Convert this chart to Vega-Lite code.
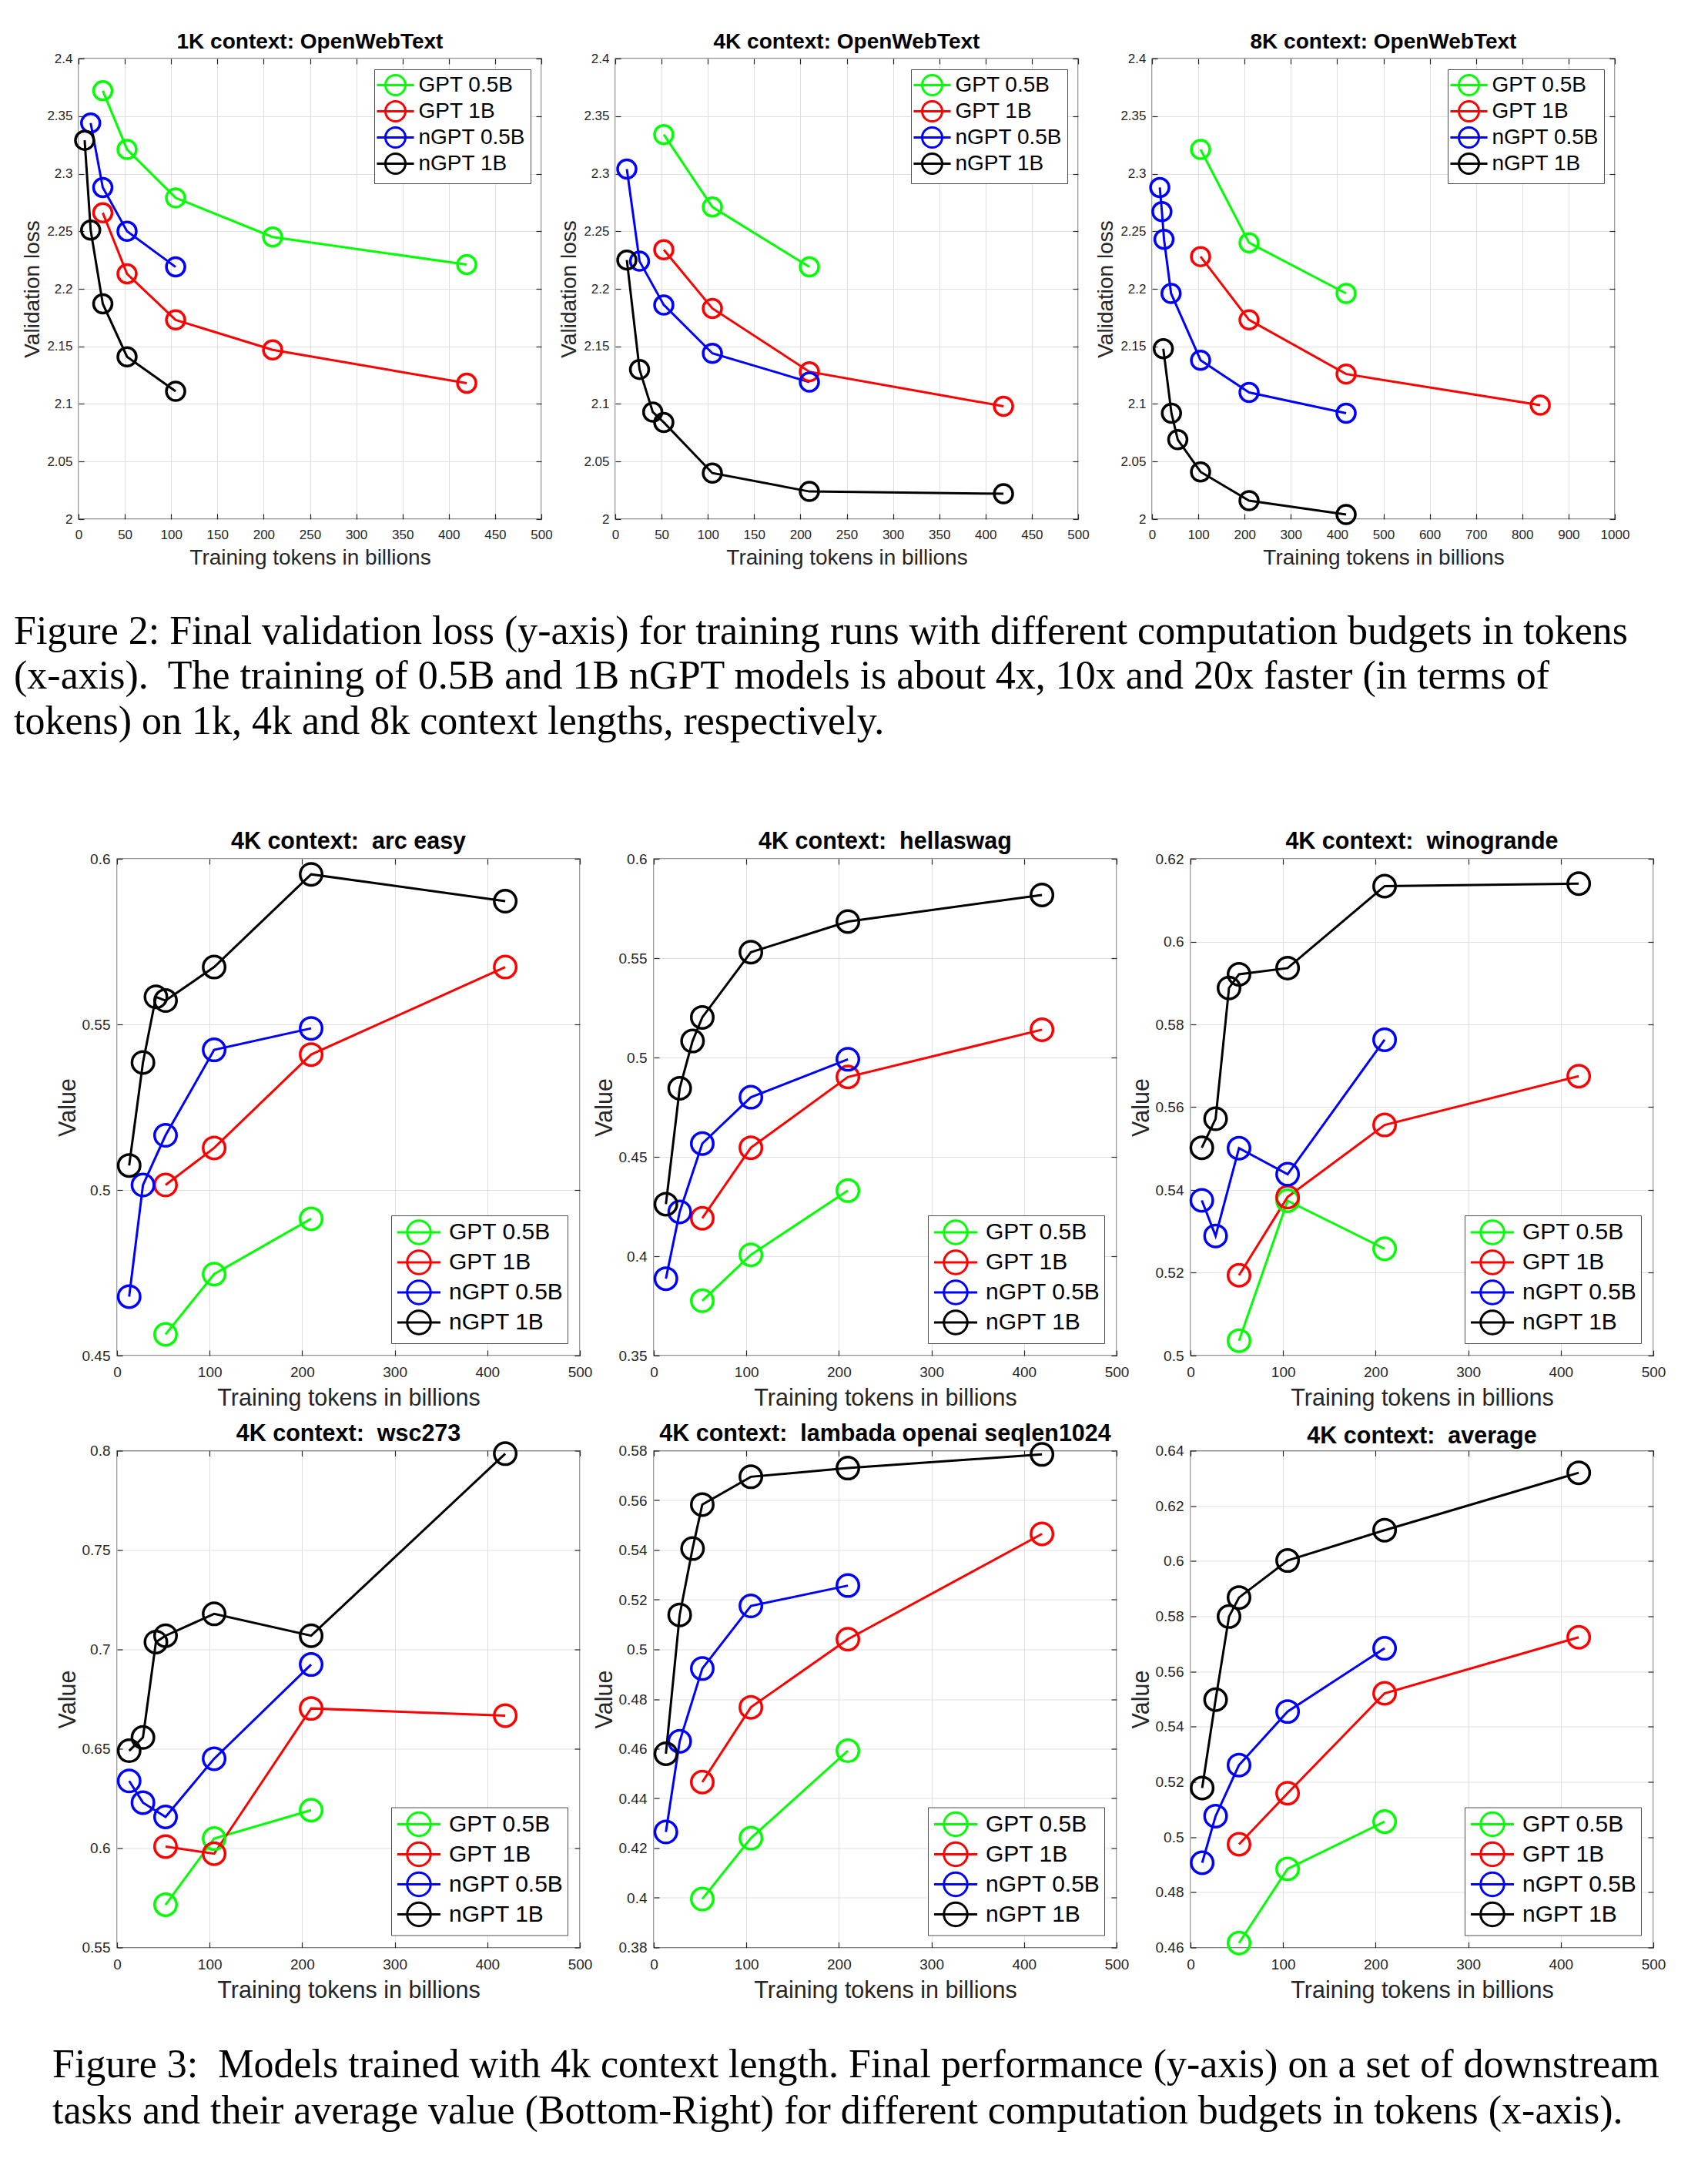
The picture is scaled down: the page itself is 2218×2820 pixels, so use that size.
{
"$schema": "https://vega.github.io/schema/vega-lite/v6.json",
"background": "white",
"padding": {"left": 0, "top": 40, "right": 0, "bottom": 0},
"spacing": 13.5,
"resolve": {"scale": {"color": "independent"}},
"config": {
  "view": {"stroke": "#262626", "strokeWidth": 1.3},
  "font": "Liberation Sans",
  "title": {"font": "Liberation Sans", "fontWeight": "bold", "color": "black", "anchor": "middle"},
  "axis": {"domain": false, "tickSize": -7, "tickColor": "#262626", "tickWidth": 1.2, "labelColor": "#262626", "titleColor": "#262626", "titleFontWeight": "normal", "labelFont": "Liberation Sans", "titleFont": "Liberation Sans", "gridColor": "#dfdfdf", "gridWidth": 1, "labelFlush": false, "labelOverlap": false, "labelBound": false},
  "legend": {"symbolStrokeWidth": 3, "symbolFillColor": "transparent", "labelFont": "Liberation Sans", "labelColor": "black", "labelLimit": 400, "strokeColor": "#4d4d4d", "fillColor": "white"}
},
"datasets": {"d": [
{"p":"p1","s":"GPT 0.5B","x":26.2,"y":2.372},{"p":"p1","s":"GPT 0.5B","x":52.4,"y":2.321},{"p":"p1","s":"GPT 0.5B","x":104.9,"y":2.279},{"p":"p1","s":"GPT 0.5B","x":209.7,"y":2.245},{"p":"p1","s":"GPT 0.5B","x":419.4,"y":2.221},
{"p":"p1","s":"GPT 1B","x":26.2,"y":2.266},{"p":"p1","s":"GPT 1B","x":52.4,"y":2.213},{"p":"p1","s":"GPT 1B","x":104.9,"y":2.173},{"p":"p1","s":"GPT 1B","x":209.7,"y":2.147},{"p":"p1","s":"GPT 1B","x":419.4,"y":2.118},
{"p":"p1","s":"nGPT 0.5B","x":13.1,"y":2.344},{"p":"p1","s":"nGPT 0.5B","x":26.2,"y":2.288},{"p":"p1","s":"nGPT 0.5B","x":52.4,"y":2.250},{"p":"p1","s":"nGPT 0.5B","x":104.9,"y":2.219},
{"p":"p1","s":"nGPT 1B","x":6.6,"y":2.329},{"p":"p1","s":"nGPT 1B","x":13.1,"y":2.251},{"p":"p1","s":"nGPT 1B","x":26.2,"y":2.187},{"p":"p1","s":"nGPT 1B","x":52.4,"y":2.141},{"p":"p1","s":"nGPT 1B","x":104.9,"y":2.111},
{"p":"p2","s":"GPT 0.5B","x":52.4,"y":2.334},{"p":"p2","s":"GPT 0.5B","x":104.9,"y":2.271},{"p":"p2","s":"GPT 0.5B","x":209.7,"y":2.219},
{"p":"p2","s":"GPT 1B","x":52.4,"y":2.234},{"p":"p2","s":"GPT 1B","x":104.9,"y":2.183},{"p":"p2","s":"GPT 1B","x":209.7,"y":2.128},{"p":"p2","s":"GPT 1B","x":419.4,"y":2.098},
{"p":"p2","s":"nGPT 0.5B","x":12.5,"y":2.304},{"p":"p2","s":"nGPT 0.5B","x":26.2,"y":2.224},{"p":"p2","s":"nGPT 0.5B","x":52.4,"y":2.186},{"p":"p2","s":"nGPT 0.5B","x":104.9,"y":2.144},{"p":"p2","s":"nGPT 0.5B","x":209.7,"y":2.119},
{"p":"p2","s":"nGPT 1B","x":12.5,"y":2.225},{"p":"p2","s":"nGPT 1B","x":26.2,"y":2.130},{"p":"p2","s":"nGPT 1B","x":40.5,"y":2.093},{"p":"p2","s":"nGPT 1B","x":52.4,"y":2.084},{"p":"p2","s":"nGPT 1B","x":104.9,"y":2.040},{"p":"p2","s":"nGPT 1B","x":209.7,"y":2.024},{"p":"p2","s":"nGPT 1B","x":419.4,"y":2.022},
{"p":"p3","s":"GPT 0.5B","x":104.9,"y":2.321},{"p":"p3","s":"GPT 0.5B","x":209.7,"y":2.240},{"p":"p3","s":"GPT 0.5B","x":419.4,"y":2.196},
{"p":"p3","s":"GPT 1B","x":104.9,"y":2.228},{"p":"p3","s":"GPT 1B","x":209.7,"y":2.173},{"p":"p3","s":"GPT 1B","x":419.4,"y":2.126},{"p":"p3","s":"GPT 1B","x":838.9,"y":2.099},
{"p":"p3","s":"nGPT 0.5B","x":16.8,"y":2.288},{"p":"p3","s":"nGPT 0.5B","x":21.4,"y":2.267},{"p":"p3","s":"nGPT 0.5B","x":25.9,"y":2.243},{"p":"p3","s":"nGPT 0.5B","x":41.2,"y":2.196},{"p":"p3","s":"nGPT 0.5B","x":104.9,"y":2.138},{"p":"p3","s":"nGPT 0.5B","x":209.7,"y":2.110},{"p":"p3","s":"nGPT 0.5B","x":419.4,"y":2.092},
{"p":"p3","s":"nGPT 1B","x":24.4,"y":2.148},{"p":"p3","s":"nGPT 1B","x":42.0,"y":2.092},{"p":"p3","s":"nGPT 1B","x":55.7,"y":2.069},{"p":"p3","s":"nGPT 1B","x":104.9,"y":2.041},{"p":"p3","s":"nGPT 1B","x":209.7,"y":2.016},{"p":"p3","s":"nGPT 1B","x":419.4,"y":2.004},
{"p":"p4","s":"GPT 0.5B","x":52.4,"y":0.4564},{"p":"p4","s":"GPT 0.5B","x":104.9,"y":0.4746},{"p":"p4","s":"GPT 0.5B","x":209.7,"y":0.4913},
{"p":"p4","s":"GPT 1B","x":52.4,"y":0.5015},{"p":"p4","s":"GPT 1B","x":104.9,"y":0.5127},{"p":"p4","s":"GPT 1B","x":209.7,"y":0.5409},{"p":"p4","s":"GPT 1B","x":419.4,"y":0.5673},
{"p":"p4","s":"nGPT 0.5B","x":13.1,"y":0.4678},{"p":"p4","s":"nGPT 0.5B","x":28.0,"y":0.5015},{"p":"p4","s":"nGPT 0.5B","x":52.4,"y":0.5165},{"p":"p4","s":"nGPT 0.5B","x":104.9,"y":0.5423},{"p":"p4","s":"nGPT 0.5B","x":209.7,"y":0.5488},
{"p":"p4","s":"nGPT 1B","x":13.1,"y":0.5074},{"p":"p4","s":"nGPT 1B","x":28.0,"y":0.5385},{"p":"p4","s":"nGPT 1B","x":42.0,"y":0.5583},{"p":"p4","s":"nGPT 1B","x":52.4,"y":0.5572},{"p":"p4","s":"nGPT 1B","x":104.9,"y":0.5673},{"p":"p4","s":"nGPT 1B","x":209.7,"y":0.5953},{"p":"p4","s":"nGPT 1B","x":419.4,"y":0.5872},
{"p":"p5","s":"GPT 0.5B","x":52.4,"y":0.3776},{"p":"p5","s":"GPT 0.5B","x":104.9,"y":0.4007},{"p":"p5","s":"GPT 0.5B","x":209.7,"y":0.4330},
{"p":"p5","s":"GPT 1B","x":52.4,"y":0.4191},{"p":"p5","s":"GPT 1B","x":104.9,"y":0.4546},{"p":"p5","s":"GPT 1B","x":209.7,"y":0.4902},{"p":"p5","s":"GPT 1B","x":419.4,"y":0.5140},
{"p":"p5","s":"nGPT 0.5B","x":13.1,"y":0.3887},{"p":"p5","s":"nGPT 0.5B","x":28.0,"y":0.4223},{"p":"p5","s":"nGPT 0.5B","x":52.4,"y":0.4567},{"p":"p5","s":"nGPT 0.5B","x":104.9,"y":0.4800},{"p":"p5","s":"nGPT 0.5B","x":209.7,"y":0.4991},
{"p":"p5","s":"nGPT 1B","x":13.1,"y":0.4262},{"p":"p5","s":"nGPT 1B","x":28.0,"y":0.4845},{"p":"p5","s":"nGPT 1B","x":41.9,"y":0.5083},{"p":"p5","s":"nGPT 1B","x":52.4,"y":0.5202},{"p":"p5","s":"nGPT 1B","x":104.9,"y":0.5530},{"p":"p5","s":"nGPT 1B","x":209.7,"y":0.5684},{"p":"p5","s":"nGPT 1B","x":419.4,"y":0.5818},
{"p":"p6","s":"GPT 0.5B","x":52.4,"y":0.5036},{"p":"p6","s":"GPT 0.5B","x":104.9,"y":0.5374},{"p":"p6","s":"GPT 0.5B","x":209.7,"y":0.5258},
{"p":"p6","s":"GPT 1B","x":52.4,"y":0.5194},{"p":"p6","s":"GPT 1B","x":104.9,"y":0.5383},{"p":"p6","s":"GPT 1B","x":209.7,"y":0.5557},{"p":"p6","s":"GPT 1B","x":419.4,"y":0.5675},
{"p":"p6","s":"nGPT 0.5B","x":12.2,"y":0.5375},{"p":"p6","s":"nGPT 0.5B","x":27.1,"y":0.5289},{"p":"p6","s":"nGPT 0.5B","x":52.4,"y":0.5501},{"p":"p6","s":"nGPT 0.5B","x":104.9,"y":0.5438},{"p":"p6","s":"nGPT 0.5B","x":209.7,"y":0.5763},
{"p":"p6","s":"nGPT 1B","x":12.2,"y":0.5502},{"p":"p6","s":"nGPT 1B","x":27.1,"y":0.5572},{"p":"p6","s":"nGPT 1B","x":41.6,"y":0.5888},{"p":"p6","s":"nGPT 1B","x":52.4,"y":0.5921},{"p":"p6","s":"nGPT 1B","x":104.9,"y":0.5936},{"p":"p6","s":"nGPT 1B","x":209.7,"y":0.6134},{"p":"p6","s":"nGPT 1B","x":419.4,"y":0.6140},
{"p":"p7","s":"GPT 0.5B","x":52.4,"y":0.5715},{"p":"p7","s":"GPT 0.5B","x":104.9,"y":0.6048},{"p":"p7","s":"GPT 0.5B","x":209.7,"y":0.6191},
{"p":"p7","s":"GPT 1B","x":52.4,"y":0.6008},{"p":"p7","s":"GPT 1B","x":104.9,"y":0.5972},{"p":"p7","s":"GPT 1B","x":209.7,"y":0.6703},{"p":"p7","s":"GPT 1B","x":419.4,"y":0.6667},
{"p":"p7","s":"nGPT 0.5B","x":13.1,"y":0.6338},{"p":"p7","s":"nGPT 0.5B","x":28.0,"y":0.6229},{"p":"p7","s":"nGPT 0.5B","x":52.4,"y":0.6157},{"p":"p7","s":"nGPT 0.5B","x":104.9,"y":0.6450},{"p":"p7","s":"nGPT 0.5B","x":209.7,"y":0.6924},
{"p":"p7","s":"nGPT 1B","x":13.1,"y":0.6490},{"p":"p7","s":"nGPT 1B","x":28.0,"y":0.6557},{"p":"p7","s":"nGPT 1B","x":42.0,"y":0.7037},{"p":"p7","s":"nGPT 1B","x":52.4,"y":0.7069},{"p":"p7","s":"nGPT 1B","x":104.9,"y":0.7179},{"p":"p7","s":"nGPT 1B","x":209.7,"y":0.7069},{"p":"p7","s":"nGPT 1B","x":419.4,"y":0.7985},
{"p":"p8","s":"GPT 0.5B","x":52.4,"y":0.3995},{"p":"p8","s":"GPT 0.5B","x":104.9,"y":0.4240},{"p":"p8","s":"GPT 0.5B","x":209.7,"y":0.4592},
{"p":"p8","s":"GPT 1B","x":52.4,"y":0.4466},{"p":"p8","s":"GPT 1B","x":104.9,"y":0.4767},{"p":"p8","s":"GPT 1B","x":209.7,"y":0.5041},{"p":"p8","s":"GPT 1B","x":419.4,"y":0.5465},
{"p":"p8","s":"nGPT 0.5B","x":13.1,"y":0.4265},{"p":"p8","s":"nGPT 0.5B","x":28.0,"y":0.4630},{"p":"p8","s":"nGPT 0.5B","x":52.4,"y":0.4923},{"p":"p8","s":"nGPT 0.5B","x":104.9,"y":0.5175},{"p":"p8","s":"nGPT 0.5B","x":209.7,"y":0.5257},
{"p":"p8","s":"nGPT 1B","x":13.1,"y":0.4580},{"p":"p8","s":"nGPT 1B","x":28.0,"y":0.5139},{"p":"p8","s":"nGPT 1B","x":41.9,"y":0.5406},{"p":"p8","s":"nGPT 1B","x":52.4,"y":0.5583},{"p":"p8","s":"nGPT 1B","x":104.9,"y":0.5695},{"p":"p8","s":"nGPT 1B","x":209.7,"y":0.5730},{"p":"p8","s":"nGPT 1B","x":419.4,"y":0.5785},
{"p":"p9","s":"GPT 0.5B","x":52.4,"y":0.4616},{"p":"p9","s":"GPT 0.5B","x":104.9,"y":0.4885},{"p":"p9","s":"GPT 0.5B","x":209.7,"y":0.5056},
{"p":"p9","s":"GPT 1B","x":52.4,"y":0.4974},{"p":"p9","s":"GPT 1B","x":104.9,"y":0.5159},{"p":"p9","s":"GPT 1B","x":209.7,"y":0.5521},{"p":"p9","s":"GPT 1B","x":419.4,"y":0.5724},
{"p":"p9","s":"nGPT 0.5B","x":12.6,"y":0.4907},{"p":"p9","s":"nGPT 0.5B","x":27.1,"y":0.5076},{"p":"p9","s":"nGPT 0.5B","x":52.4,"y":0.5261},{"p":"p9","s":"nGPT 0.5B","x":104.9,"y":0.5455},{"p":"p9","s":"nGPT 0.5B","x":209.7,"y":0.5684},
{"p":"p9","s":"nGPT 1B","x":12.6,"y":0.5178},{"p":"p9","s":"nGPT 1B","x":27.1,"y":0.5498},{"p":"p9","s":"nGPT 1B","x":41.6,"y":0.5799},{"p":"p9","s":"nGPT 1B","x":52.4,"y":0.5868},{"p":"p9","s":"nGPT 1B","x":104.9,"y":0.6002},{"p":"p9","s":"nGPT 1B","x":209.7,"y":0.6112},{"p":"p9","s":"nGPT 1B","x":419.4,"y":0.6320}
]},
"vconcat": [
{
 "hconcat": [
  {"width": 6, "height": 598, "view": {"stroke": null}, "data": {"values": [{"a": 1}]}, "mark": {"type": "point", "opacity": 0}},
  {"width": 601, "height": 598, "title": {"text": "1K context: OpenWebText", "fontSize": 28, "offset": -2},
   "data": {"name": "d"}, "transform": [{"filter": "datum.p == 'p1'"}],
   "encoding": {"color": {"field": "s", "type": "nominal", "scale": {"domain": ["GPT 0.5B","GPT 1B","nGPT 0.5B","nGPT 1B"], "range": ["#00ff00","#ff0000","#0000ff","#000000"]}, "legend": {"title": null, "orient": "top-right", "offset": 14, "padding": 6, "rowPadding": -5, "symbolType": "M-1.85,0L1.85,0M1,0A1,1 0 1,1 -1,0A1,1 0 1,1 1,0", "symbolSize": 676, "symbolOffset": 7, "labelOffset": 15.5, "labelFontSize": 28}}},
   "layer": [
    {"mark": {"type": "line", "strokeWidth": 3},
     "encoding": {"x": {"field": "x", "type": "quantitative", "scale": {"domain": [0,500], "nice": false}, "axis": {"orient": "bottom", "values": [0,50,100,150,200,250,300,350,400,450,500], "format": "d", "grid": true, "title": "Training tokens in billions", "labelFontSize": 17, "labelPadding": 19, "titleFontSize": 28, "titlePadding": 8}},
                  "y": {"field": "y", "type": "quantitative", "scale": {"domain": [2,2.4], "nice": false, "zero": false}, "axis": {"orient": "left", "values": [2,2.05,2.1,2.15,2.2,2.25,2.3,2.35,2.4], "format": "~g", "grid": true, "title": "Validation loss", "labelFontSize": 17, "labelPadding": 15, "titleFontSize": 28, "titlePadding": 4}}}},
    {"mark": {"type": "point", "shape": "circle", "filled": false, "size": 576, "strokeWidth": 3.5, "opacity": 1},
     "encoding": {"x": {"field": "x", "type": "quantitative", "scale": {"domain": [0,500], "nice": false}, "axis": {"orient": "top", "values": [0,50,100,150,200,250,300,350,400,450,500], "grid": false, "labels": false, "title": null}},
                  "y": {"field": "y", "type": "quantitative", "scale": {"domain": [2,2.4], "nice": false, "zero": false}, "axis": {"orient": "right", "values": [2,2.05,2.1,2.15,2.2,2.25,2.3,2.35,2.4], "grid": false, "labels": false, "title": null}}}}
   ]},
  {"width": 601, "height": 598, "title": {"text": "4K context: OpenWebText", "fontSize": 28, "offset": -2},
   "data": {"name": "d"}, "transform": [{"filter": "datum.p == 'p2'"}],
   "encoding": {"color": {"field": "s", "type": "nominal", "scale": {"domain": ["GPT 0.5B","GPT 1B","nGPT 0.5B","nGPT 1B"], "range": ["#00ff00","#ff0000","#0000ff","#000000"]}, "legend": {"title": null, "orient": "top-right", "offset": 14, "padding": 6, "rowPadding": -5, "symbolType": "M-1.85,0L1.85,0M1,0A1,1 0 1,1 -1,0A1,1 0 1,1 1,0", "symbolSize": 676, "symbolOffset": 7, "labelOffset": 15.5, "labelFontSize": 28}}},
   "layer": [
    {"mark": {"type": "line", "strokeWidth": 3},
     "encoding": {"x": {"field": "x", "type": "quantitative", "scale": {"domain": [0,500], "nice": false}, "axis": {"orient": "bottom", "values": [0,50,100,150,200,250,300,350,400,450,500], "format": "d", "grid": true, "title": "Training tokens in billions", "labelFontSize": 17, "labelPadding": 19, "titleFontSize": 28, "titlePadding": 8}},
                  "y": {"field": "y", "type": "quantitative", "scale": {"domain": [2,2.4], "nice": false, "zero": false}, "axis": {"orient": "left", "values": [2,2.05,2.1,2.15,2.2,2.25,2.3,2.35,2.4], "format": "~g", "grid": true, "title": "Validation loss", "labelFontSize": 17, "labelPadding": 15, "titleFontSize": 28, "titlePadding": 4}}}},
    {"mark": {"type": "point", "shape": "circle", "filled": false, "size": 576, "strokeWidth": 3.5, "opacity": 1},
     "encoding": {"x": {"field": "x", "type": "quantitative", "scale": {"domain": [0,500], "nice": false}, "axis": {"orient": "top", "values": [0,50,100,150,200,250,300,350,400,450,500], "grid": false, "labels": false, "title": null}},
                  "y": {"field": "y", "type": "quantitative", "scale": {"domain": [2,2.4], "nice": false, "zero": false}, "axis": {"orient": "right", "values": [2,2.05,2.1,2.15,2.2,2.25,2.3,2.35,2.4], "grid": false, "labels": false, "title": null}}}}
   ]},
  {"width": 601, "height": 598, "title": {"text": "8K context: OpenWebText", "fontSize": 28, "offset": -2},
   "data": {"name": "d"}, "transform": [{"filter": "datum.p == 'p3'"}],
   "encoding": {"color": {"field": "s", "type": "nominal", "scale": {"domain": ["GPT 0.5B","GPT 1B","nGPT 0.5B","nGPT 1B"], "range": ["#00ff00","#ff0000","#0000ff","#000000"]}, "legend": {"title": null, "orient": "top-right", "offset": 14, "padding": 6, "rowPadding": -5, "symbolType": "M-1.85,0L1.85,0M1,0A1,1 0 1,1 -1,0A1,1 0 1,1 1,0", "symbolSize": 676, "symbolOffset": 7, "labelOffset": 15.5, "labelFontSize": 28}}},
   "layer": [
    {"mark": {"type": "line", "strokeWidth": 3},
     "encoding": {"x": {"field": "x", "type": "quantitative", "scale": {"domain": [0,1000], "nice": false}, "axis": {"orient": "bottom", "values": [0,100,200,300,400,500,600,700,800,900,1000], "format": "d", "grid": true, "title": "Training tokens in billions", "labelFontSize": 17, "labelPadding": 19, "titleFontSize": 28, "titlePadding": 8}},
                  "y": {"field": "y", "type": "quantitative", "scale": {"domain": [2,2.4], "nice": false, "zero": false}, "axis": {"orient": "left", "values": [2,2.05,2.1,2.15,2.2,2.25,2.3,2.35,2.4], "format": "~g", "grid": true, "title": "Validation loss", "labelFontSize": 17, "labelPadding": 15, "titleFontSize": 28, "titlePadding": 4}}}},
    {"mark": {"type": "point", "shape": "circle", "filled": false, "size": 576, "strokeWidth": 3.5, "opacity": 1},
     "encoding": {"x": {"field": "x", "type": "quantitative", "scale": {"domain": [0,1000], "nice": false}, "axis": {"orient": "top", "values": [0,100,200,300,400,500,600,700,800,900,1000], "grid": false, "labels": false, "title": null}},
                  "y": {"field": "y", "type": "quantitative", "scale": {"domain": [2,2.4], "nice": false, "zero": false}, "axis": {"orient": "right", "values": [2,2.05,2.1,2.15,2.2,2.25,2.3,2.35,2.4], "grid": false, "labels": false, "title": null}}}}
   ]}
 ],
 "spacing": 96, "bounds": "flush", "resolve": {"scale": {"color": "independent"}}
},
{
 "width": 1000, "height": 310, "view": {"stroke": null},
 "data": {"values": [
   {"l": 1, "t": "Figure 2: Final validation loss (y-axis) for training runs with different computation budgets in tokens"},
   {"l": 2, "t": "(x-axis).\u00a0 The training of 0.5B and 1B nGPT models is about 4x, 10x and 20x faster (in terms of"},
   {"l": 3, "t": "tokens) on 1k, 4k and 8k context lengths, respectively."}
 ]},
 "mark": {"type": "text", "align": "left", "baseline": "middle", "font": "Liberation Serif", "fontSize": 52, "color": "black", "dx": 18},
 "encoding": {
   "x": {"datum": 0, "type": "quantitative", "scale": {"domain": [0, 1]}, "axis": null},
   "y": {"field": "l", "type": "quantitative", "axis": null, "scale": {"domain": [-0.1538, 5.1453], "reverse": true, "nice": false, "zero": false}},
   "text": {"field": "t"}
 }
},
{
 "hconcat": [
  {"width": 56, "height": 645, "view": {"stroke": null}, "data": {"values": [{"a": 1}]}, "mark": {"type": "point", "opacity": 0}},
  {"width": 601, "height": 645, "title": {"text": "4K context:\u00a0 arc easy", "fontSize": 30.5, "offset": -2},
   "data": {"name": "d"}, "transform": [{"filter": "datum.p == 'p4'"}],
   "encoding": {"color": {"field": "s", "type": "nominal", "scale": {"domain": ["GPT 0.5B","GPT 1B","nGPT 0.5B","nGPT 1B"], "range": ["#00ff00","#ff0000","#0000ff","#000000"]}, "legend": {"title": null, "orient": "bottom-right", "offset": 16, "padding": 5, "rowPadding": -8.5, "symbolType": "M-1.84,0L1.84,0M1,0A1,1 0 1,1 -1,0A1,1 0 1,1 1,0", "symbolSize": 930, "symbolOffset": 14, "labelOffset": 22, "labelFontSize": 30}}},
   "layer": [
    {"mark": {"type": "line", "strokeWidth": 3},
     "encoding": {"x": {"field": "x", "type": "quantitative", "scale": {"domain": [0,500], "nice": false}, "axis": {"orient": "bottom", "values": [0,100,200,300,400,500], "format": "d", "grid": true, "title": "Training tokens in billions", "labelFontSize": 19, "labelPadding": 19.5, "titleFontSize": 30.5, "titlePadding": 9}},
                  "y": {"field": "y", "type": "quantitative", "scale": {"domain": [0.45,0.6], "nice": false, "zero": false}, "axis": {"orient": "left", "values": [0.45,0.5,0.55,0.6], "format": "~g", "grid": true, "title": "Value", "labelFontSize": 19, "labelPadding": 16, "titleFontSize": 30.5, "titlePadding": 3}}}},
    {"mark": {"type": "point", "shape": "circle", "filled": false, "size": 812, "strokeWidth": 3.5, "opacity": 1},
     "encoding": {"x": {"field": "x", "type": "quantitative", "scale": {"domain": [0,500], "nice": false}, "axis": {"orient": "top", "values": [0,100,200,300,400,500], "grid": false, "labels": false, "title": null}},
                  "y": {"field": "y", "type": "quantitative", "scale": {"domain": [0.45,0.6], "nice": false, "zero": false}, "axis": {"orient": "right", "values": [0.45,0.5,0.55,0.6], "grid": false, "labels": false, "title": null}}}}
   ]},
  {"width": 601, "height": 645, "title": {"text": "4K context:\u00a0 hellaswag", "fontSize": 30.5, "offset": -2},
   "data": {"name": "d"}, "transform": [{"filter": "datum.p == 'p5'"}],
   "encoding": {"color": {"field": "s", "type": "nominal", "scale": {"domain": ["GPT 0.5B","GPT 1B","nGPT 0.5B","nGPT 1B"], "range": ["#00ff00","#ff0000","#0000ff","#000000"]}, "legend": {"title": null, "orient": "bottom-right", "offset": 16, "padding": 5, "rowPadding": -8.5, "symbolType": "M-1.84,0L1.84,0M1,0A1,1 0 1,1 -1,0A1,1 0 1,1 1,0", "symbolSize": 930, "symbolOffset": 14, "labelOffset": 22, "labelFontSize": 30}}},
   "layer": [
    {"mark": {"type": "line", "strokeWidth": 3},
     "encoding": {"x": {"field": "x", "type": "quantitative", "scale": {"domain": [0,500], "nice": false}, "axis": {"orient": "bottom", "values": [0,100,200,300,400,500], "format": "d", "grid": true, "title": "Training tokens in billions", "labelFontSize": 19, "labelPadding": 19.5, "titleFontSize": 30.5, "titlePadding": 9}},
                  "y": {"field": "y", "type": "quantitative", "scale": {"domain": [0.35,0.6], "nice": false, "zero": false}, "axis": {"orient": "left", "values": [0.35,0.4,0.45,0.5,0.55,0.6], "format": "~g", "grid": true, "title": "Value", "labelFontSize": 19, "labelPadding": 16, "titleFontSize": 30.5, "titlePadding": 3}}}},
    {"mark": {"type": "point", "shape": "circle", "filled": false, "size": 812, "strokeWidth": 3.5, "opacity": 1},
     "encoding": {"x": {"field": "x", "type": "quantitative", "scale": {"domain": [0,500], "nice": false}, "axis": {"orient": "top", "values": [0,100,200,300,400,500], "grid": false, "labels": false, "title": null}},
                  "y": {"field": "y", "type": "quantitative", "scale": {"domain": [0.35,0.6], "nice": false, "zero": false}, "axis": {"orient": "right", "values": [0.35,0.4,0.45,0.5,0.55,0.6], "grid": false, "labels": false, "title": null}}}}
   ]},
  {"width": 601, "height": 645, "title": {"text": "4K context:\u00a0 winogrande", "fontSize": 30.5, "offset": -2},
   "data": {"name": "d"}, "transform": [{"filter": "datum.p == 'p6'"}],
   "encoding": {"color": {"field": "s", "type": "nominal", "scale": {"domain": ["GPT 0.5B","GPT 1B","nGPT 0.5B","nGPT 1B"], "range": ["#00ff00","#ff0000","#0000ff","#000000"]}, "legend": {"title": null, "orient": "bottom-right", "offset": 16, "padding": 5, "rowPadding": -8.5, "symbolType": "M-1.84,0L1.84,0M1,0A1,1 0 1,1 -1,0A1,1 0 1,1 1,0", "symbolSize": 930, "symbolOffset": 14, "labelOffset": 22, "labelFontSize": 30}}},
   "layer": [
    {"mark": {"type": "line", "strokeWidth": 3},
     "encoding": {"x": {"field": "x", "type": "quantitative", "scale": {"domain": [0,500], "nice": false}, "axis": {"orient": "bottom", "values": [0,100,200,300,400,500], "format": "d", "grid": true, "title": "Training tokens in billions", "labelFontSize": 19, "labelPadding": 19.5, "titleFontSize": 30.5, "titlePadding": 9}},
                  "y": {"field": "y", "type": "quantitative", "scale": {"domain": [0.5,0.62], "nice": false, "zero": false}, "axis": {"orient": "left", "values": [0.5,0.52,0.54,0.56,0.58,0.6,0.62], "format": "~g", "grid": true, "title": "Value", "labelFontSize": 19, "labelPadding": 16, "titleFontSize": 30.5, "titlePadding": 3}}}},
    {"mark": {"type": "point", "shape": "circle", "filled": false, "size": 812, "strokeWidth": 3.5, "opacity": 1},
     "encoding": {"x": {"field": "x", "type": "quantitative", "scale": {"domain": [0,500], "nice": false}, "axis": {"orient": "top", "values": [0,100,200,300,400,500], "grid": false, "labels": false, "title": null}},
                  "y": {"field": "y", "type": "quantitative", "scale": {"domain": [0.5,0.62], "nice": false, "zero": false}, "axis": {"orient": "right", "values": [0.5,0.52,0.54,0.56,0.58,0.6,0.62], "grid": false, "labels": false, "title": null}}}}
   ]}
 ],
 "spacing": 96, "bounds": "flush", "resolve": {"scale": {"color": "independent"}}
},
{
 "hconcat": [
  {"width": 56, "height": 645, "view": {"stroke": null}, "data": {"values": [{"a": 1}]}, "mark": {"type": "point", "opacity": 0}},
  {"width": 601, "height": 645, "title": {"text": "4K context:\u00a0 wsc273", "fontSize": 30.5, "offset": -11.5},
   "data": {"name": "d"}, "transform": [{"filter": "datum.p == 'p7'"}],
   "encoding": {"color": {"field": "s", "type": "nominal", "scale": {"domain": ["GPT 0.5B","GPT 1B","nGPT 0.5B","nGPT 1B"], "range": ["#00ff00","#ff0000","#0000ff","#000000"]}, "legend": {"title": null, "orient": "bottom-right", "offset": 16, "padding": 5, "rowPadding": -8.5, "symbolType": "M-1.84,0L1.84,0M1,0A1,1 0 1,1 -1,0A1,1 0 1,1 1,0", "symbolSize": 930, "symbolOffset": 14, "labelOffset": 22, "labelFontSize": 30}}},
   "layer": [
    {"mark": {"type": "line", "strokeWidth": 3},
     "encoding": {"x": {"field": "x", "type": "quantitative", "scale": {"domain": [0,500], "nice": false}, "axis": {"orient": "bottom", "values": [0,100,200,300,400,500], "format": "d", "grid": true, "title": "Training tokens in billions", "labelFontSize": 19, "labelPadding": 19.5, "titleFontSize": 30.5, "titlePadding": 9}},
                  "y": {"field": "y", "type": "quantitative", "scale": {"domain": [0.55,0.8], "nice": false, "zero": false}, "axis": {"orient": "left", "values": [0.55,0.6,0.65,0.7,0.75,0.8], "format": "~g", "grid": true, "title": "Value", "labelFontSize": 19, "labelPadding": 16, "titleFontSize": 30.5, "titlePadding": 3}}}},
    {"mark": {"type": "point", "shape": "circle", "filled": false, "size": 812, "strokeWidth": 3.5, "opacity": 1},
     "encoding": {"x": {"field": "x", "type": "quantitative", "scale": {"domain": [0,500], "nice": false}, "axis": {"orient": "top", "values": [0,100,200,300,400,500], "grid": false, "labels": false, "title": null}},
                  "y": {"field": "y", "type": "quantitative", "scale": {"domain": [0.55,0.8], "nice": false, "zero": false}, "axis": {"orient": "right", "values": [0.55,0.6,0.65,0.7,0.75,0.8], "grid": false, "labels": false, "title": null}}}}
   ]},
  {"width": 601, "height": 645, "title": {"text": "4K context:\u00a0 lambada openai seqlen1024", "fontSize": 30.5, "offset": -10.5},
   "data": {"name": "d"}, "transform": [{"filter": "datum.p == 'p8'"}],
   "encoding": {"color": {"field": "s", "type": "nominal", "scale": {"domain": ["GPT 0.5B","GPT 1B","nGPT 0.5B","nGPT 1B"], "range": ["#00ff00","#ff0000","#0000ff","#000000"]}, "legend": {"title": null, "orient": "bottom-right", "offset": 16, "padding": 5, "rowPadding": -8.5, "symbolType": "M-1.84,0L1.84,0M1,0A1,1 0 1,1 -1,0A1,1 0 1,1 1,0", "symbolSize": 930, "symbolOffset": 14, "labelOffset": 22, "labelFontSize": 30}}},
   "layer": [
    {"mark": {"type": "line", "strokeWidth": 3},
     "encoding": {"x": {"field": "x", "type": "quantitative", "scale": {"domain": [0,500], "nice": false}, "axis": {"orient": "bottom", "values": [0,100,200,300,400,500], "format": "d", "grid": true, "title": "Training tokens in billions", "labelFontSize": 19, "labelPadding": 19.5, "titleFontSize": 30.5, "titlePadding": 9}},
                  "y": {"field": "y", "type": "quantitative", "scale": {"domain": [0.38,0.58], "nice": false, "zero": false}, "axis": {"orient": "left", "values": [0.38,0.4,0.42,0.44,0.46,0.48,0.5,0.52,0.54,0.56,0.58], "format": "~g", "grid": true, "title": "Value", "labelFontSize": 19, "labelPadding": 16, "titleFontSize": 30.5, "titlePadding": 3}}}},
    {"mark": {"type": "point", "shape": "circle", "filled": false, "size": 812, "strokeWidth": 3.5, "opacity": 1},
     "encoding": {"x": {"field": "x", "type": "quantitative", "scale": {"domain": [0,500], "nice": false}, "axis": {"orient": "top", "values": [0,100,200,300,400,500], "grid": false, "labels": false, "title": null}},
                  "y": {"field": "y", "type": "quantitative", "scale": {"domain": [0.38,0.58], "nice": false, "zero": false}, "axis": {"orient": "right", "values": [0.38,0.4,0.42,0.44,0.46,0.48,0.5,0.52,0.54,0.56,0.58], "grid": false, "labels": false, "title": null}}}}
   ]},
  {"width": 601, "height": 645, "title": {"text": "4K context:\u00a0 average", "fontSize": 30.5, "offset": -5.5},
   "data": {"name": "d"}, "transform": [{"filter": "datum.p == 'p9'"}],
   "encoding": {"color": {"field": "s", "type": "nominal", "scale": {"domain": ["GPT 0.5B","GPT 1B","nGPT 0.5B","nGPT 1B"], "range": ["#00ff00","#ff0000","#0000ff","#000000"]}, "legend": {"title": null, "orient": "bottom-right", "offset": 16, "padding": 5, "rowPadding": -8.5, "symbolType": "M-1.84,0L1.84,0M1,0A1,1 0 1,1 -1,0A1,1 0 1,1 1,0", "symbolSize": 930, "symbolOffset": 14, "labelOffset": 22, "labelFontSize": 30}}},
   "layer": [
    {"mark": {"type": "line", "strokeWidth": 3},
     "encoding": {"x": {"field": "x", "type": "quantitative", "scale": {"domain": [0,500], "nice": false}, "axis": {"orient": "bottom", "values": [0,100,200,300,400,500], "format": "d", "grid": true, "title": "Training tokens in billions", "labelFontSize": 19, "labelPadding": 19.5, "titleFontSize": 30.5, "titlePadding": 9}},
                  "y": {"field": "y", "type": "quantitative", "scale": {"domain": [0.46,0.64], "nice": false, "zero": false}, "axis": {"orient": "left", "values": [0.46,0.48,0.5,0.52,0.54,0.56,0.58,0.6,0.62,0.64], "format": "~g", "grid": true, "title": "Value", "labelFontSize": 19, "labelPadding": 16, "titleFontSize": 30.5, "titlePadding": 3}}}},
    {"mark": {"type": "point", "shape": "circle", "filled": false, "size": 812, "strokeWidth": 3.5, "opacity": 1},
     "encoding": {"x": {"field": "x", "type": "quantitative", "scale": {"domain": [0,500], "nice": false}, "axis": {"orient": "top", "values": [0,100,200,300,400,500], "grid": false, "labels": false, "title": null}},
                  "y": {"field": "y", "type": "quantitative", "scale": {"domain": [0.46,0.64], "nice": false, "zero": false}, "axis": {"orient": "right", "values": [0.46,0.48,0.5,0.52,0.54,0.56,0.58,0.6,0.62,0.64], "grid": false, "labels": false, "title": null}}}}
   ]}
 ],
 "spacing": 96, "bounds": "flush", "resolve": {"scale": {"color": "independent"}}
},
{
 "width": 1000, "height": 180, "view": {"stroke": null},
 "data": {"values": [
   {"l": 1, "t": "Figure 3:\u00a0 Models trained with 4k context length. Final performance (y-axis) on a set of downstream"},
   {"l": 2, "t": "tasks and their average value (Bottom-Right) for different computation budgets in tokens (x-axis)."}
 ]},
 "mark": {"type": "text", "align": "left", "baseline": "middle", "font": "Liberation Serif", "fontSize": 52, "color": "black", "dx": 68},
 "encoding": {
   "x": {"datum": 0, "type": "quantitative", "scale": {"domain": [0, 1]}, "axis": null},
   "y": {"field": "l", "type": "quantitative", "axis": null, "scale": {"domain": [-0.11, 2.89], "reverse": true, "nice": false, "zero": false}},
   "text": {"field": "t"}
 }
}
]
}
